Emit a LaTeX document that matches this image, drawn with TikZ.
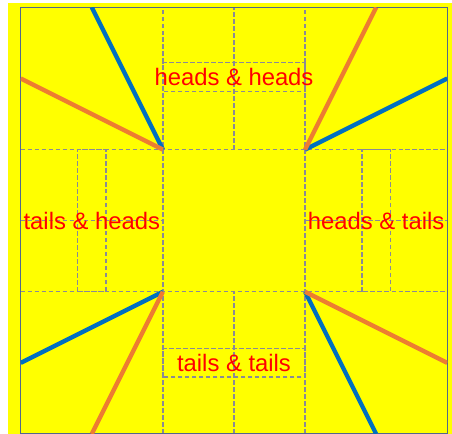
\documentclass[tikz,border=0pt]{standalone}
\usepackage{fontspec}
\setmainfont{Liberation Sans}
\usetikzlibrary{positioning}
\definecolor{CoinYellow}{HTML}{FFFF00}
\definecolor{CoinBlue}{HTML}{0070C0}
\definecolor{CoinOrange}{HTML}{ED7D31}
\definecolor{CoinGrid}{HTML}{8A8A96}
\definecolor{CoinFrame}{HTML}{52688A}
\definecolor{CoinText}{HTML}{FF0000}

\begin{document}
\begin{tikzpicture}[
    gridline/.style={draw=CoinGrid,line width=.75pt,dash pattern=on 2.8pt off 1.4pt},
    blueleg/.style={draw=CoinBlue,line width=2.6pt},
    orangeleg/.style={draw=CoinOrange,line width=2.6pt},
    outcome/.style={inner sep=0pt,text=CoinText,font=\fontsize{14.3}{17}\selectfont}]
        \useasboundingbox (-0.437,0) rectangle (9.1,9.156);
        \fill[CoinYellow] (-0.268,0) rectangle (9.1,9.093);

        % dashed grid
        \draw[gridline] (0,3) -- (9,3) (0,6) -- (9,6);
        \draw[gridline] (3,0) -- (3,9) (6,0) -- (6,9);
        \draw[gridline] (4.5,6) -- (4.5,9) (4.5,0) -- (4.5,3);
        \draw[gridline] (0,4.5) -- (3,4.5) (6,4.5) -- (9,4.5);
        \draw[gridline] (3,7.23) rectangle (6,7.83);
        \draw[gridline] (3,1.2) rectangle (6,1.8);
        \draw[gridline] (1.2,3) rectangle (1.8,6);
        \draw[gridline] (7.2,3) rectangle (7.8,6);

        \draw[draw=CoinFrame,line width=.6pt] (0,0) rectangle (9,9);

        % corners of the middle square
        \coordinate (tl) at (3,6);
        \coordinate (tr) at (6,6);
        \coordinate (bl) at (3,3);
        \coordinate (br) at (6,3);
        \coordinate (tlB) at (1.5,9);
        \coordinate (tlO) at (0,7.5);
        \coordinate (trB) at (9,7.5);
        \coordinate (trO) at (7.5,9);
        \coordinate (blB) at (0,1.5);
        \coordinate (blO) at (1.5,0);
        \coordinate (brB) at (7.5,0);
        \coordinate (brO) at (9,1.5);

        \begin{scope}
          \clip (0,0) rectangle (9,9);
          \draw[blueleg] (tl) -- (tlB);
          \draw[blueleg] (tr) -- (trB);
          \draw[blueleg] (bl) -- (blB);
          \draw[blueleg] (br) -- (brB);
          \draw[orangeleg] (tl) -- (tlO);
          \draw[orangeleg] (tr) -- (trO);
          \draw[orangeleg] (bl) -- (blO);
          \draw[orangeleg] (br) -- (brO);
        \end{scope}

        \node[outcome] (hh) at (4.5,7.53) {heads \& heads};
        \node[outcome] (th) at (1.5,4.5) {tails \& heads};
        \node[outcome] (ht) at (7.5,4.5) {heads \& tails};
        \node[outcome] (tt) at (4.5,1.5) {tails \& tails};
      \end{tikzpicture}
\end{document}
